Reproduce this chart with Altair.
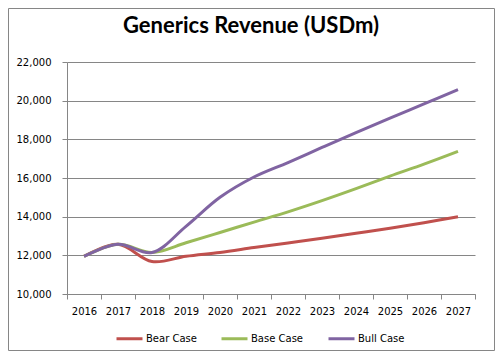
import altair as alt
import pandas as pd

years = [str(y) for y in range(2016, 2028)]
bear = [11950, 12570, 11680, 11950, 12150, 12400, 12640, 12880, 13140, 13400, 13690, 14000]
base = [11950, 12570, 12150, 12650, 13180, 13720, 14250, 14830, 15450, 16100, 16720, 17380]
bull = [11950, 12570, 12150, 13500, 15000, 16050, 16800, 17580, 18350, 19100, 19830, 20570]
series_names = ["Bear Case", "Base Case", "Bull Case"]
series_colors = ["#C0504D", "#9BBB59", "#8064A2"]
y_ticks = [10000, 12000, 14000, 16000, 18000, 20000, 22000]
title_text = "Generics Revenue (USDm)"

rows = []
for name, vals in zip(series_names, [bear, base, bull]):
    for yr, v in zip(years, vals):
        rows.append({"Year": yr, "Revenue": v, "Series": name})
df = pd.DataFrame(rows)

GRID = "#868686"

lines = alt.Chart(df).mark_line(interpolate="catmull-rom", strokeWidth=3).encode(
    x=alt.X("Year:O",
            scale=alt.Scale(type="band", paddingInner=0, paddingOuter=0, domain=years),
            axis=alt.Axis(title=None, labelAngle=0, tickBand="extent", grid=False,
                          tickSize=5, labelPadding=7, domainColor=GRID, tickColor=GRID,
                          labelFont="DejaVu Sans", labelFontSize=10, labelColor="black")),
    y=alt.Y("Revenue:Q",
            scale=alt.Scale(domain=[10000, 22000], nice=False, zero=False),
            axis=alt.Axis(title=None, values=y_ticks, format=",.0f", grid=True,
                          gridColor=GRID, gridOpacity=1, tickSize=5, labelPadding=11,
                          domainColor=GRID, tickColor=GRID,
                          labelFont="DejaVu Sans", labelFontSize=10, labelColor="black")),
    color=alt.Color("Series:N",
                    scale=alt.Scale(domain=series_names, range=series_colors),
                    legend=alt.Legend(title=None, orient="none", legendX=48, legendY=262,
                                      direction="horizontal", symbolType="stroke",
                                      symbolSize=676, symbolStrokeWidth=3, labelOffset=2,
                                      columnPadding=18, padding=0,
                                      labelFont="DejaVu Sans", labelFontSize=10,
                                      labelColor="black")),
)

border = alt.Chart(alt.Data(values=[{}])).mark_rect(
    fillOpacity=0, stroke=GRID, strokeWidth=1
).encode(
    x=alt.value(-58.5), x2=alt.value(427.5), y=alt.value(-53.5), y2=alt.value(288.5)
)

title = alt.Chart(alt.Data(values=[{"t": title_text}])).mark_text(
    font="Lato", fontSize=22, fontWeight="bold", color="black",
    align="center", baseline="alphabetic"
).encode(
    text="t:N", x=alt.value(184), y=alt.value(-29)
)

chart = alt.layer(border, lines, title).properties(
    width=408,
    height=232,
    padding={"left": 59, "top": 54, "right": 20, "bottom": 57},
    autosize=alt.AutoSizeParams(type="none"),
    background="white",
).configure_view(strokeWidth=0)

chart.save("out.html", embed_options={"renderer": "svg", "actions": False})
